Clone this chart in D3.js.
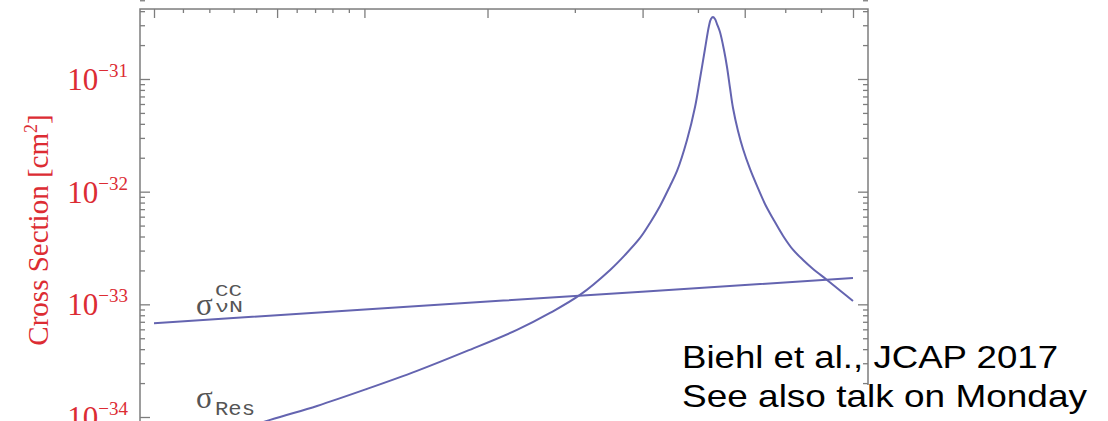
<!DOCTYPE html>
<html>
<head>
<meta charset="utf-8">
<script src="https://cdn.jsdelivr.net/npm/d3@7"></script>
<style>
  html, body { margin: 0; padding: 0; background: #fff; }
  svg { display: block; }
</style>
</head>
<body>
<svg id="chart" width="1108" height="421"></svg>
<script>
// Neutrino energy [GeV] and resonant cross section [cm^2]
const resEnergy = [1.000e6, 1.203e6, 1.466e6, 1.711e6, 2.017e6, 2.378e6, 2.805e6, 3.306e6, 3.686e6, 4.068e6,
                   4.493e6, 4.719e6, 4.958e6, 5.124e6, 5.296e6, 5.473e6, 5.601e6, 5.788e6, 5.943e6, 6.040e6,
                   6.141e6, 6.222e6, 6.263e6, 6.305e6, 6.347e6, 6.389e6, 6.452e6, 6.538e6, 6.603e6, 6.669e6,
                   6.735e6, 6.847e6, 6.961e6, 7.123e6, 7.289e6, 7.483e6, 7.688e6, 7.945e6, 8.211e6, 8.484e6,
                   8.767e6, 9.180e6, 9.581e6, 1.000e7];
const resSigma  = [4.00e-35, 6.26e-35, 9.43e-35, 1.254e-34, 1.775e-34, 2.566e-34, 3.859e-34, 5.928e-34, 8.388e-34, 1.212e-33,
                   2.020e-33, 2.744e-33, 3.883e-33, 5.277e-33, 7.467e-33, 1.124e-32, 1.526e-32, 2.875e-32, 5.644e-32, 1.000e-31,
                   1.846e-31, 2.953e-31, 3.407e-31, 3.549e-31, 3.407e-31, 3.076e-31, 2.612e-31, 1.808e-31, 1.278e-31, 8.318e-32,
                   5.530e-32, 3.456e-32, 2.393e-32, 1.590e-32, 1.124e-32, 7.780e-33, 5.725e-33, 4.045e-33, 3.039e-33, 2.477e-33,
                   2.062e-33, 1.646e-33, 1.328e-33, 1.072e-33];

// Charged-current neutrino-nucleon cross section [cm^2]
const ccEnergy = [1.0e6, 3.16e6, 1.0e7];
const ccSigma  = [6.8e-34, 1.08e-33, 1.71e-33];

// Axis ticks
const xMajorTicks = [1.0e6, 1.5e6, 2.0e6, 3.0e6, 5.0e6, 7.0e6, 1.0e7];
const xMinorTicks = [1.1e6, 1.2e6, 1.3e6, 1.4e6, 1.6e6, 1.7e6, 1.8e6, 1.9e6, 4.0e6, 6.0e6, 8.0e6, 9.0e6];
const yDecades = [-35, -34, -33, -32, -31];
const yLabelExponents = [-34, -33, -32, -31];

const svg = d3.select("#chart");

const x = d3.scaleLog().domain([1e6, 1e7]).range([154, 853]);
const y = d3.scaleLog().domain([1e-34, 1e-31]).range([417, 79]);

// Plot frame (padded around the data range)
const frame = { left: x(1e6) - 14, right: x(1e7) + 15, top: y(4.18e-31), bottom: y(3.0e-35) };

const red = "#dc2c33";
const axisColor = "#7d7d7d";
const lineColor = "#6464b0";

// minor ticks on the log y axis
const yMajor = yDecades.map(e => Math.pow(10, e));
const yMinor = [];
yDecades.forEach(e => { for (let k = 2; k <= 9; k++) yMinor.push(k * Math.pow(10, e)); });

const gAxes = svg.append("g");

function styleAxis(g) {
  g.select(".domain").remove();
  g.selectAll("line").attr("stroke", axisColor).attr("stroke-width", 1.3);
  g.selectAll("text").remove();
}

// left axis: inward ticks
gAxes.append("g").attr("transform", `translate(${frame.left},0)`)
  .call(d3.axisRight(y).tickValues(yMajor).tickSize(10).tickFormat(""))
  .call(styleAxis);
gAxes.append("g").attr("transform", `translate(${frame.left},0)`)
  .call(d3.axisRight(y).tickValues(yMinor).tickSize(5).tickFormat(""))
  .call(styleAxis);
// right axis: inward ticks
gAxes.append("g").attr("transform", `translate(${frame.right},0)`)
  .call(d3.axisLeft(y).tickValues(yMajor).tickSize(10).tickFormat(""))
  .call(styleAxis);
gAxes.append("g").attr("transform", `translate(${frame.right},0)`)
  .call(d3.axisLeft(y).tickValues(yMinor).tickSize(5).tickFormat(""))
  .call(styleAxis);
// top axis: inward ticks
gAxes.append("g").attr("transform", `translate(0,${frame.top})`)
  .call(d3.axisBottom(x).tickValues(xMajorTicks).tickSize(9).tickFormat(""))
  .call(styleAxis);
gAxes.append("g").attr("transform", `translate(0,${frame.top})`)
  .call(d3.axisBottom(x).tickValues(xMinorTicks).tickSize(4).tickFormat(""))
  .call(styleAxis);

// frame
svg.append("rect")
  .attr("x", frame.left).attr("y", frame.top)
  .attr("width", frame.right - frame.left).attr("height", frame.bottom - frame.top)
  .attr("fill", "none").attr("stroke", axisColor).attr("stroke-width", 1.5);

// clip the curves to the frame
svg.append("clipPath").attr("id", "plot-clip")
  .append("rect")
  .attr("x", frame.left).attr("y", frame.top)
  .attr("width", frame.right - frame.left).attr("height", frame.bottom - frame.top);

const line = d3.line()
  .x(d => x(d[0]))
  .y(d => y(d[1]))
  .curve(d3.curveCatmullRom.alpha(0.5));

const plot = svg.append("g").attr("clip-path", "url(#plot-clip)");

plot.append("path")
  .datum(ccEnergy.map((e, i) => [e, ccSigma[i]]))
  .attr("d", line)
  .attr("fill", "none").attr("stroke", lineColor).attr("stroke-width", 2);

plot.append("path")
  .datum(resEnergy.map((e, i) => [e, resSigma[i]]))
  .attr("d", line)
  .attr("fill", "none").attr("stroke", lineColor).attr("stroke-width", 2)
  .attr("stroke-linejoin", "round");

// y tick labels: 10^n
const yLabels = svg.append("g")
  .attr("font-family", "'Liberation Serif', 'Times New Roman', serif")
  .attr("fill", red);
yLabelExponents.forEach(e => {
  const t = yLabels.append("text")
    .attr("x", 128)
    .attr("y", y(Math.pow(10, e)) + 11)
    .attr("text-anchor", "end")
    .attr("font-size", 31);
  t.append("tspan").text("10");
  t.append("tspan").attr("dy", -13).attr("font-size", 19).text("\u2212" + Math.abs(e));
});

// y axis title
const yTitle = svg.append("text")
  .attr("transform", "translate(48,230) rotate(-90)")
  .attr("text-anchor", "middle")
  .attr("font-family", "'Liberation Serif', 'Times New Roman', serif")
  .attr("font-size", 29)
  .attr("fill", red);
yTitle.append("tspan").text("Cross Section [cm");
yTitle.append("tspan").attr("dy", -11).attr("font-size", 18).text("2");
yTitle.append("tspan").attr("dy", 11).text("]");

// curve labels
const labels = svg.append("g").attr("fill", "#555");
const ccLabel = labels.append("g");
ccLabel.append("text")
  .attr("x", 196).attr("y", 315)
  .attr("font-family", "'Liberation Serif', serif").attr("font-size", 31)
  .text("\u03c3");
ccLabel.append("text")
  .attr("x", 215).attr("y", 296)
  .attr("font-family", "'Liberation Mono', monospace").attr("font-size", 16)
  .attr("textLength", 27).attr("lengthAdjust", "spacingAndGlyphs")
  .text("CC");
ccLabel.append("text")
  .attr("x", 215).attr("y", 312)
  .attr("font-family", "'Liberation Mono', monospace").attr("font-size", 16)
  .attr("textLength", 28).attr("lengthAdjust", "spacingAndGlyphs")
  .text("\u03bdN");

const resLabel = labels.append("g");
resLabel.append("text")
  .attr("x", 196).attr("y", 408)
  .attr("font-family", "'Liberation Serif', serif").attr("font-size", 31)
  .text("\u03c3");
resLabel.append("text")
  .attr("x", 215).attr("y", 415)
  .attr("font-family", "'Liberation Mono', monospace").attr("font-size", 21)
  .attr("textLength", 40).attr("lengthAdjust", "spacingAndGlyphs")
  .text("Res");

// citation note
svg.append("rect")
  .attr("x", 676).attr("y", 385).attr("width", 432).attr("height", 36)
  .attr("fill", "#fff");
const note = svg.append("g")
  .attr("font-family", "'Liberation Sans', Arial, sans-serif")
  .attr("font-size", 32)
  .attr("fill", "#000");
note.append("text").attr("x", 682).attr("y", 368)
  .attr("textLength", 376).attr("lengthAdjust", "spacingAndGlyphs")
  .text("Biehl et al., JCAP 2017");
note.append("text").attr("x", 682).attr("y", 407)
  .attr("textLength", 405).attr("lengthAdjust", "spacingAndGlyphs")
  .text("See also talk on Monday");
</script>
</body>
</html>
